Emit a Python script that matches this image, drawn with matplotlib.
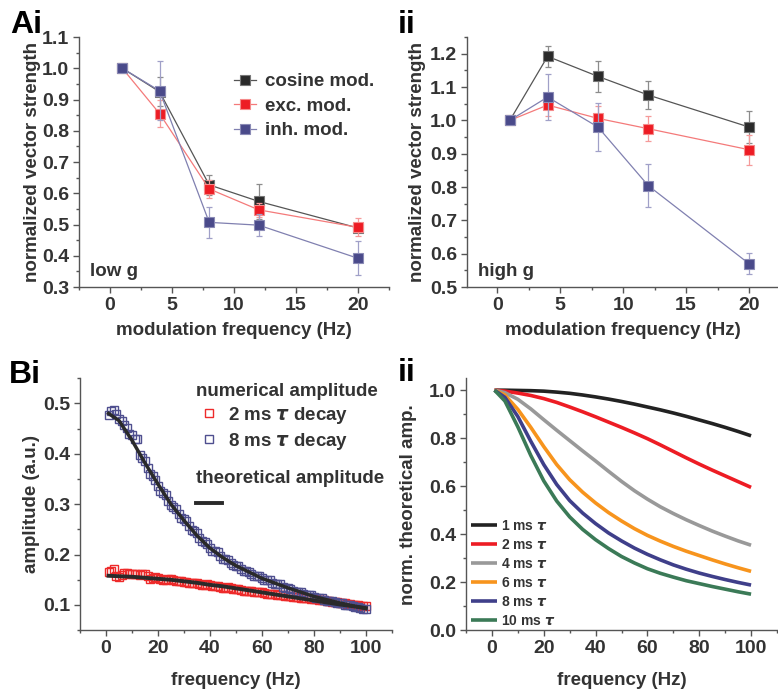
import numpy as np
import matplotlib.pyplot as plt
from matplotlib.ticker import MultipleLocator, FormatStrFormatter

plt.rcParams['font.family'] = ['Liberation Sans', 'DejaVu Sans']
plt.rcParams['font.weight'] = 'bold'
plt.rcParams['mathtext.fontset'] = 'dejavusans'

# ---------------- panel A data (vector strength) ----------------
mod_freq = [1, 4, 8, 12, 20]

low_cos = [1.0, 0.925, 0.627, 0.574, 0.489]
low_cos_err = [0.0, 0.047, 0.033, 0.057, 0.012]
low_exc = [1.0, 0.855, 0.614, 0.547, 0.491]
low_exc_err = [0.0, 0.042, 0.030, 0.022, 0.029]
low_inh = [1.0, 0.928, 0.507, 0.498, 0.392]
low_inh_err = [0.0, 0.095, 0.050, 0.035, 0.055]

high_cos = [1.0, 1.192, 1.132, 1.076, 0.980]
high_cos_err = [0.0, 0.032, 0.046, 0.042, 0.047]
high_exc = [1.0, 1.046, 1.006, 0.975, 0.912]
high_exc_err = [0.0, 0.034, 0.036, 0.038, 0.045]
high_inh = [1.0, 1.070, 0.980, 0.804, 0.570]
high_inh_err = [0.0, 0.070, 0.072, 0.065, 0.031]

series_names = ['cosine mod.', 'exc. mod.', 'inh. mod.']

# ---------------- panel Bi data (amplitude vs frequency) ----------------
num_freq = list(range(1, 101))
num_2ms = [0.165, 0.168, 0.172, 0.158, 0.155, 0.160, 0.163, 0.163, 0.162, 0.162,
           0.161, 0.161, 0.160, 0.161, 0.162, 0.158, 0.152, 0.153, 0.155, 0.153,
           0.151, 0.150, 0.150, 0.151, 0.151, 0.149, 0.147, 0.147, 0.148, 0.146,
           0.145, 0.144, 0.144, 0.143, 0.143, 0.141, 0.140, 0.140, 0.141, 0.139,
           0.137, 0.137, 0.138, 0.136, 0.134, 0.134, 0.135, 0.133, 0.131, 0.131,
           0.132, 0.130, 0.128, 0.128, 0.128, 0.127, 0.126, 0.125, 0.125, 0.125,
           0.124, 0.122, 0.121, 0.122, 0.122, 0.120, 0.119, 0.119, 0.118, 0.118,
           0.117, 0.116, 0.116, 0.115, 0.114, 0.114, 0.113, 0.113, 0.112, 0.112,
           0.111, 0.110, 0.109, 0.109, 0.108, 0.107, 0.106, 0.106, 0.105, 0.104,
           0.103, 0.103, 0.102, 0.101, 0.100, 0.100, 0.099, 0.098, 0.097, 0.097]
num_8ms = [0.476, 0.484, 0.487, 0.478, 0.470, 0.466, 0.458, 0.452, 0.440, 0.438,
           0.430, 0.430, 0.398, 0.392, 0.385, 0.372, 0.360, 0.356, 0.348, 0.336,
           0.326, 0.322, 0.318, 0.306, 0.298, 0.295, 0.290, 0.280, 0.272, 0.270,
           0.266, 0.256, 0.248, 0.246, 0.242, 0.232, 0.226, 0.224, 0.221, 0.213,
           0.208, 0.207, 0.205, 0.197, 0.192, 0.191, 0.190, 0.183, 0.179, 0.178,
           0.177, 0.171, 0.168, 0.167, 0.166, 0.161, 0.158, 0.158, 0.157, 0.153,
           0.150, 0.150, 0.149, 0.144, 0.141, 0.141, 0.141, 0.136, 0.133, 0.133,
           0.132, 0.128, 0.126, 0.126, 0.126, 0.122, 0.120, 0.120, 0.119, 0.116,
           0.114, 0.114, 0.113, 0.110, 0.108, 0.108, 0.107, 0.105, 0.103, 0.103,
           0.103, 0.100, 0.099, 0.099, 0.098, 0.096, 0.095, 0.094, 0.092, 0.092]

theo_freq = [1, 5, 10, 15, 20, 25, 30, 35, 40, 45, 50, 60, 70, 80, 90, 100]
theo_2ms = [0.158, 0.157, 0.156, 0.154, 0.152, 0.150, 0.147, 0.144, 0.140, 0.137,
            0.133, 0.125, 0.117, 0.109, 0.101, 0.094]
theo_8ms = [0.480, 0.466, 0.427, 0.382, 0.340, 0.300, 0.268, 0.238, 0.213, 0.194,
            0.178, 0.153, 0.134, 0.117, 0.104, 0.093]

# ---------------- panel Bii data (normalized theoretical amplitude) ----------------
norm_freq = [1, 5, 10, 15, 20, 25, 30, 35, 40, 45, 50, 55, 60, 65, 70, 75, 80, 85, 90, 95, 100]
tau_labels = ['1 ms $\\tau$', '2 ms $\\tau$', '4 ms $\\tau$', '6 ms $\\tau$',
              '8 ms $\\tau$', '10 ms $\\tau$']
norm_1ms = [1.0, 1.0, 0.999, 0.998, 0.996, 0.992, 0.987, 0.980, 0.972, 0.963, 0.953,
            0.942, 0.930, 0.918, 0.905, 0.891, 0.876, 0.861, 0.845, 0.828, 0.810]
norm_2ms = [1.0, 0.996, 0.988, 0.978, 0.965, 0.949, 0.930, 0.910, 0.889, 0.867, 0.845,
            0.822, 0.798, 0.772, 0.745, 0.718, 0.692, 0.667, 0.643, 0.619, 0.595]
norm_4ms = [1.0, 0.990, 0.962, 0.922, 0.877, 0.833, 0.790, 0.747, 0.705, 0.662, 0.620,
            0.581, 0.546, 0.514, 0.486, 0.460, 0.436, 0.413, 0.392, 0.372, 0.354]
norm_6ms = [1.0, 0.980, 0.920, 0.845, 0.765, 0.690, 0.627, 0.575, 0.530, 0.490, 0.455,
            0.423, 0.395, 0.371, 0.349, 0.329, 0.311, 0.293, 0.276, 0.260, 0.245]
norm_8ms = [1.0, 0.970, 0.890, 0.787, 0.690, 0.607, 0.540, 0.488, 0.444, 0.405, 0.372,
            0.342, 0.316, 0.293, 0.272, 0.254, 0.238, 0.224, 0.211, 0.199, 0.188]
norm_10ms = [1.0, 0.955, 0.847, 0.728, 0.622, 0.538, 0.472, 0.420, 0.377, 0.340, 0.307,
             0.280, 0.256, 0.237, 0.221, 0.206, 0.194, 0.182, 0.171, 0.160, 0.150]

# colours
face_cols = ['#2a2a2a', '#ed1c24', '#4a4a8a']
edge_cols = ['#777777', '#f58a8a', '#8a8ab5']
line_cols = ['#555555', '#f47a7a', '#8080b0']
err_cols = ['#8c8c8c', '#f59a9a', '#a0a0c8']
tau_cols = ['#222222', '#ed1c24', '#999999', '#f7941d', '#3f3f8a', '#3b7a57']

TXT = '#333333'
FS = 13.5

fig = plt.figure(figsize=(7.78, 6.9), dpi=100)


def style_axes(ax):
    for s in ['top', 'right']:
        ax.spines[s].set_visible(False)
    for s in ['left', 'bottom']:
        ax.spines[s].set_color('#555555')
        ax.spines[s].set_linewidth(1.0)
    ax.tick_params(which='both', direction='out', color='#555555',
                   labelcolor=TXT, labelsize=14, width=1.0)
    ax.tick_params(which='major', length=4, pad=3)
    ax.tick_params(which='minor', length=2.5)
    for lab in ax.get_xticklabels() + ax.get_yticklabels():
        lab.set_fontweight('bold')


def vs_panel(ax, data, errs, ylim, tag):
    handles = []
    for i, (vals, err) in enumerate(zip(data, errs)):
        ax.errorbar(mod_freq, vals, yerr=err, fmt='none', ecolor=err_cols[i],
                    elinewidth=0.9, capsize=2.2, capthick=0.9, zorder=2 + i)
        h, = ax.plot(mod_freq, vals, '-s', color=line_cols[i], lw=0.9,
                     ms=7, mfc=face_cols[i], mec=edge_cols[i], mew=0.8,
                     zorder=3 + i, label=series_names[i])
        handles.append(h)
    ax.set_xlim(-2.5, 22.5)
    ax.set_ylim(*ylim)
    ax.xaxis.set_major_locator(MultipleLocator(5))
    ax.xaxis.set_minor_locator(MultipleLocator(2.5))
    ax.yaxis.set_major_locator(MultipleLocator(0.1))
    ax.yaxis.set_minor_locator(MultipleLocator(0.05))
    ax.yaxis.set_major_formatter(FormatStrFormatter('%.1f'))
    ax.set_xlabel('modulation frequency (Hz)', fontsize=FS, fontweight='bold', color=TXT)
    ax.set_ylabel('normalized vector strength', fontsize=FS, fontweight='bold', color=TXT)
    ax.text(0.035, 0.03, tag, transform=ax.transAxes, fontsize=FS,
            fontweight='bold', color=TXT, va='bottom', ha='left')
    style_axes(ax)
    return handles


# ---------------- Ai ----------------
axA1 = fig.add_axes([0.1015, 0.584, 0.3985, 0.3623])
hA = vs_panel(axA1, [low_cos, low_exc, low_inh], [low_cos_err, low_exc_err, low_inh_err],
              (0.3, 1.1), 'low g')
axA1.legend(handles=hA, loc='upper left', bbox_to_anchor=(0.5, 0.855), frameon=False,
            fontsize=FS, handlelength=1.2, handletextpad=0.45, labelspacing=0.39,
            borderpad=0, borderaxespad=0, labelcolor=TXT)
axA1.yaxis.set_label_coords(-0.122, 0.5)
axA1.xaxis.set_label_coords(0.5, -0.14)

# ---------------- Aii ----------------
axA2 = fig.add_axes([0.6003, 0.584, 0.3997, 0.3623])
vs_panel(axA2, [high_cos, high_exc, high_inh], [high_cos_err, high_exc_err, high_inh_err],
         (0.5, 1.25), 'high g')
axA2.set_xlim(-2.4, 22.3)
axA2.yaxis.set_label_coords(-0.132, 0.5)
axA2.xaxis.set_label_coords(0.5, -0.14)

# ---------------- Bi ----------------
axB1 = fig.add_axes([0.1028, 0.0867, 0.4006, 0.3652])
h2, = axB1.plot(num_freq, num_2ms, 's', ms=6, mfc='none', mec='#ee2a2a', mew=1.0,
                label='2 ms $\\tau$ decay')
h8, = axB1.plot(num_freq, num_8ms, 's', ms=6, mfc='none', mec='#4f4f8f', mew=1.0,
                label='8 ms $\\tau$ decay')
ht, = axB1.plot(theo_freq, theo_2ms, '-', color='#2a2a2a', lw=2.8, zorder=4)
axB1.plot(theo_freq, theo_8ms, '-', color='#2a2a2a', lw=2.5, zorder=4)
axB1.set_xlim(-10, 110)
axB1.set_ylim(0.05, 0.55)
axB1.xaxis.set_major_locator(MultipleLocator(20))
axB1.xaxis.set_minor_locator(MultipleLocator(10))
axB1.yaxis.set_major_locator(MultipleLocator(0.1))
axB1.yaxis.set_minor_locator(MultipleLocator(0.05))
axB1.yaxis.set_major_formatter(FormatStrFormatter('%.1f'))
axB1.set_xlabel('frequency (Hz)', fontsize=FS, fontweight='bold', color=TXT)
axB1.set_ylabel('amplitude (a.u.)', fontsize=FS, fontweight='bold', color=TXT)
axB1.yaxis.set_label_coords(-0.128, 0.5)
axB1.xaxis.set_label_coords(0.5, -0.166)
style_axes(axB1)

leg1 = axB1.legend(handles=[h2, h8], title='numerical amplitude', loc='upper left',
                   bbox_to_anchor=(0.372, 0.98), frameon=False, alignment='left',
                   fontsize=FS, title_fontproperties={'weight': 'bold', 'size': FS},
                   handlelength=1.4, handletextpad=0.3, labelspacing=0.25,
                   borderpad=0, borderaxespad=0, labelcolor=TXT)
leg1.get_title().set_color(TXT)
axB1.add_artist(leg1)
leg2 = axB1.legend(handles=[ht], labels=[''], title='theoretical amplitude', loc='upper left',
                   bbox_to_anchor=(0.372, 0.635), frameon=False, alignment='left',
                   fontsize=FS, title_fontproperties={'weight': 'bold', 'size': FS},
                   handlelength=1.4, handletextpad=0.3, borderpad=0, borderaxespad=0)
leg2.get_title().set_color(TXT)

# ---------------- Bii ----------------
axB2 = fig.add_axes([0.599, 0.0867, 0.3997, 0.3652])
curves = [norm_1ms, norm_2ms, norm_4ms, norm_6ms, norm_8ms, norm_10ms]
for vals, col, lab in zip(curves, tau_cols, tau_labels):
    axB2.plot(norm_freq, vals, '-', color=col, lw=2.6, label=lab, solid_capstyle='butt')
axB2.set_xlim(-10, 110)
axB2.set_ylim(0, 1.05)
axB2.xaxis.set_major_locator(MultipleLocator(20))
axB2.xaxis.set_minor_locator(MultipleLocator(10))
axB2.yaxis.set_major_locator(MultipleLocator(0.2))
axB2.yaxis.set_minor_locator(MultipleLocator(0.1))
axB2.yaxis.set_major_formatter(FormatStrFormatter('%.1f'))
axB2.set_xlabel('frequency (Hz)', fontsize=FS, fontweight='bold', color=TXT)
axB2.set_ylabel('norm. theoretical amp.', fontsize=FS, fontweight='bold', color=TXT)
axB2.yaxis.set_label_coords(-0.158, 0.5)
axB2.xaxis.set_label_coords(0.5, -0.166)
style_axes(axB2)
axB2.legend(loc='lower left', bbox_to_anchor=(0.015, 0.01), frameon=False, fontsize=10,
            handlelength=1.9, handletextpad=0.3, labelspacing=0.35, borderpad=0,
            borderaxespad=0, labelcolor=TXT)

# panel letters
for x, y, s in [(0.013, 0.985, 'Ai'), (0.511, 0.985, 'ii'),
                (0.011, 0.478, 'Bi'), (0.511, 0.481, 'ii')]:
    fig.text(x, y, s, fontsize=23, fontweight='bold', color='black', va='top', ha='left')

fig.savefig('out.png', dpi=100)
